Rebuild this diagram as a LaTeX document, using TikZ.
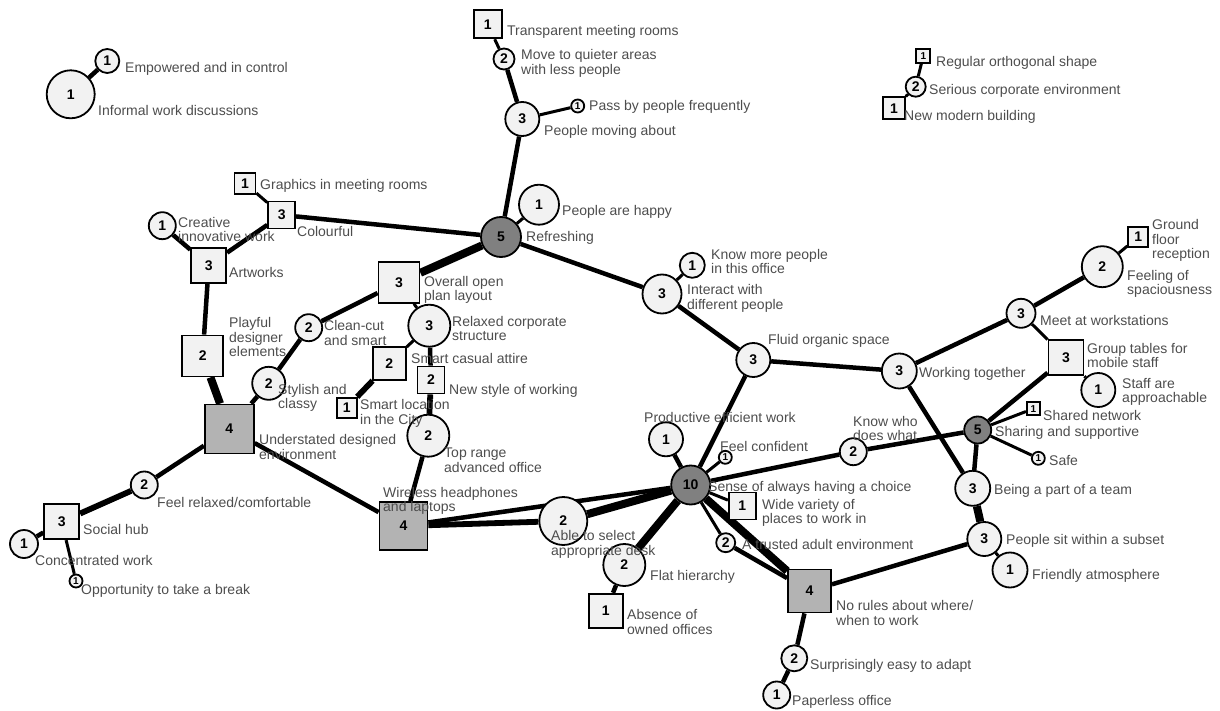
\documentclass[tikz,border=0pt]{standalone}
\usepackage{fontspec}
\setmainfont{Liberation Sans}
\usetikzlibrary{backgrounds}
\definecolor{nodefill}{HTML}{F2F2F2}
\definecolor{darkfill}{HTML}{B3B3B3}
\definecolor{hubfill}{HTML}{808080}
\definecolor{labelgray}{HTML}{4D4D4D}
\tikzset{
  cnode/.style={circle, draw, line width=1.8pt, fill=nodefill, inner sep=0pt,
    minimum size=#1, font=\fontsize{14}{14}\selectfont\bfseries},
  cnode/.default=30,
  snode/.style={rectangle, draw, line width=1.8pt, fill=nodefill, inner sep=0pt,
    minimum size=#1, font=\fontsize{14}{14}\selectfont\bfseries},
  snode/.default=30,
  darksq/.style={fill=darkfill},
  hubc/.style={fill=hubfill},
  tinynum/.style={font=\fontsize{10}{10}\selectfont\bfseries},
  lbl/.style={anchor=west, inner sep=0pt, align=left, text=labelgray,
    font=\fontsize{14}{14.5}\selectfont},
  lw1/.style={line width=3pt},
  lw2/.style={line width=4.5pt},
  lw3/.style={line width=5.8pt},
  lw4/.style={line width=8pt}
}
\begin{document}
\begin{tikzpicture}[x=1pt, y=-1pt]
        \useasboundingbox (0, 0) rectangle (1220, 711);

        %%informal
        \node[cnode=48] (inform) at(70.7, 94.3){1};
        \node[cnode=24] (empow) at(107.3, 61){1};
        \node[lbl] (inform-l) at(98, 110){Informal work discussions};
        \node[lbl] (empow-l) at(125, 69){Empowered and in control};

        %%refreshing
        \node[cnode=40, hubc] (refresh) at(501, 237){5};
        \node[cnode=40] (happy) at(539, 204.7){1};
        \node[cnode=34] (moving) at(522.3, 119){3};
        \node[cnode=13, tinynum] (passby) at(577.7, 106){1};
        \node[cnode=21] (quieter) at(504, 59){2};
        \node[snode=28] (transp) at(487.7, 24.3){1};
        \node[lbl] (refresh-l) at(526, 238.3){Refreshing};
        \node[lbl] (happy-l) at(562, 211.7){People are happy};
        \node[lbl] (moving-l) at(544, 132){People moving about};
        \node[lbl] (passby-l) at(589, 106.5){Pass by people frequently};
        \node[lbl] (quieter-l) at(521, 63.5){Move to quieter areas\\with less people};
        \node[lbl] (transp-l) at(507, 32.3){Transparent meeting rooms};

        %%colourful
        \node[snode=27] (colour) at(281.7, 215){3};
        \node[snode=21] (graph) at(245, 183.3){1};
        \node[cnode=27] (creat) at(162.3, 225.7){1};
        \node[snode=35] (artw) at(208.7, 265.3){3};
        \node[snode=41] (playf) at(202.7, 356){2};
        \node[lbl] (colour-l) at(297, 231){Colourful};
        \node[lbl] (graph-l) at(260, 186){Graphics in meeting rooms};
        \node[lbl] (creat-l) at(178, 229.5){Creative\\innovative work};
        \node[lbl] (artw-l) at(229, 272){Artworks};
        \node[lbl] (playf-l) at(229, 337){Playful\\designer\\elements};

        %%understated
        \node[snode=49, darksq] (under) at(229.3, 429){4};
        \node[cnode=33] (stylish) at(268.7, 383.3){2};
        \node[cnode=27] (clean) at(308.7, 327.7){2};
        \node[snode=41] (overall) at(399, 282.3){3};
        \node[cnode=42] (relax) at(429.3, 325.7){3};
        \node[snode=33] (casual) at(389.3, 363.3){2};
        \node[snode=20] (locat) at(346.7, 407.7){1};
        \node[snode=27] (newstyle) at(431, 380){2};
        \node[cnode=42] (toprange) at(428.3, 435.7){2};
        \node[snode=48, darksq] (wireless) at(403.5, 526){4};
        \node[lbl] (under-l) at(259, 447){Understated designed\\environment};
        \node[lbl] (stylish-l) at(278, 398){Stylish and\\classy};
        \node[lbl] (clean-l) at(324, 333){Clean-cut\\and smart};
        \node[lbl] (overall-l) at(424, 290){Overall open\\plan layout};
        \node[lbl] (relax-l) at(452, 328.5){Relaxed corporate\\structure};
        \node[lbl] (casual-l) at(411, 358.5){Smart casual attire};
        \node[lbl] (locat-l) at(360, 413.5){Smart location\\in the City};
        \node[lbl] (newstyle-l) at(449, 390.5){New style of working};
        \node[lbl] (toprange-l) at(444, 460.5){Top range\\advanced office};
        \node[lbl] (wireless-l) at(383, 501){Wireless headphones\\and laptops};

        %%social hub
        \node[cnode=27] (relaxed) at(144.3, 485){2};
        \node[snode=35] (social) at(61.7, 521.7){3};
        \node[cnode=28] (concen) at(24, 544){1};
        \node[cnode=13, tinynum] (breakk) at(76, 581){1};
        \node[lbl] (relaxed-l) at(157, 502.7){Feel relaxed/comfortable};
        \node[lbl] (social-l) at(83, 529){Social hub};
        \node[lbl] (concen-l) at(35, 560.7){Concentrated work};
        \node[lbl] (breakk-l) at(81, 590.7){Opportunity to take a break};

        %%choice
        \node[cnode=39, hubc] (choice) at(690.7, 485){10};
        \node[cnode=34] (product) at(666, 439.3){1};
        \node[cnode=13, tinynum] (confident) at(725.3, 457.3){1};
        \node[snode=27] (variety) at(742.3, 506){1};
        \node[cnode=19] (trusted) at(725.7, 542.7){2};
        \node[cnode=48] (select) at(563.3, 521){2};
        \node[cnode=42] (flat) at(624.3, 565){2};
        \node[snode=34] (absence) at(605.7, 610.7){1};
        \node[snode=43, darksq] (norules) at(809.5, 591){4};
        \node[cnode=26] (adapt) at(794.3, 658.3){2};
        \node[cnode=27] (paper) at(776.7, 695){1};
        \node[lbl] (choice-l) at(708, 488.3){Sense of always having a choice};
        \node[lbl] (product-l) at(644, 417.3){Productive efficient work};
        \node[lbl] (confident-l) at(720, 446.7){Feel confident};
        \node[lbl] (variety-l) at(762, 513){Wide variety of\\places to work in};
        \node[lbl] (trusted-l) at(742, 544){A trusted adult environment};
        \node[lbl] (select-l) at(551, 544.2){Able to select\\appropriate desk};
        \node[lbl] (flat-l) at(650, 577.3){Flat hierarchy};
        \node[lbl] (absence-l) at(627, 622.2){Absence of\\owned offices};
        \node[lbl] (norules-l) at(836, 613){No rules about where/\\when to work};
        \node[lbl] (adapt-l) at(810, 665.7){Surprisingly easy to adapt};
        \node[lbl] (paper-l) at(792, 702){Paperless office};

        %%interact
        \node[cnode=39] (interact) at(662, 294){3};
        \node[cnode=25] (knowmore) at(692.3, 265.3){1};
        \node[cnode=34] (fluid) at(753.3, 360){3};
        \node[lbl] (interact-l) at(687, 298.5){Interact with\\different people};
        \node[lbl] (knowmore-l) at(711, 261.3){Know more people\\in this office};
        \node[lbl] (fluid-l) at(768, 340.7){Fluid organic space};

        %%working together
        \node[cnode=35] (together) at(899.3, 371){3};
        \node[cnode=29] (meet) at(1021, 313.3){3};
        \node[cnode=41] (spacious) at(1102.3, 266.7){2};
        \node[snode=20] (ground) at(1138.3, 237){1};
        \node[snode=35] (group) at(1066, 357.7){3};
        \node[cnode=34] (approach) at(1098.3, 390){1};
        \node[lbl] (together-l) at(919, 374.3){Working together};
        \node[lbl] (meet-l) at(1040, 320){Meet at workstations};
        \node[lbl] (spacious-l) at(1127, 284){Feeling of\\spaciousness};
        \node[lbl] (ground-l) at(1152, 240.5){Ground\\floor\\reception};
        \node[lbl] (group-l) at(1087, 355.3){Group tables for\\mobile staff};
        \node[lbl] (approach-l) at(1122, 392){Staff are\\approachable};

        %%sharing
        \node[cnode=27, hubc] (sharing) at(977.7, 430){5};
        \node[snode=13, tinynum] (network) at(1033.3, 408.7){1};
        \node[cnode=13, tinynum] (safe) at(1038.3, 458.3){1};
        \node[cnode=27] (knowwho) at(853.3, 451.7){2};
        \node[cnode=35] (team) at(972.7, 488.3){3};
        \node[cnode=34] (subset) at(984.3, 539){3};
        \node[cnode=35] (friendly) at(1010, 570){1};
        \node[lbl] (sharing-l) at(995, 432.7){Sharing and supportive};
        \node[lbl] (network-l) at(1043, 415.3){Shared network};
        \node[lbl] (safe-l) at(1049, 460.7){Safe};
        \node[lbl] (knowwho-l) at(853, 428.3){Know who\\does what};
        \node[lbl] (team-l) at(994, 491){Being a part of a team};
        \node[lbl] (subset-l) at(1006, 541){People sit within a subset};
        \node[lbl] (friendly-l) at(1032, 576){Friendly atmosphere};

        %%corporate
        \node[snode=14, tinynum] (regular) at(923.3, 55.7){1};
        \node[cnode=20] (serious) at(915.7, 86.7){2};
        \node[snode=22] (modern) at(894, 108.3){1};
        \node[lbl] (regular-l) at(936, 63){Regular orthogonal shape};
        \node[lbl] (serious-l) at(929, 90.7){Serious corporate environment};
        \node[lbl] (modern-l) at(904, 116.7){New modern building};

        \begin{scope}[on background layer]
            \draw[lw2](inform) to (empow);
            \draw[lw1](regular) to (serious);
            \draw[lw1](serious) to (modern);

            \draw[lw1](graph) to (colour);
            \draw[lw2](colour) to (refresh);
            \draw[lw2](colour) to (artw);
            \draw[lw2](creat) to (artw);
            \draw[lw2](artw) to (playf);
            \draw[lw4](playf) to (under);

            \draw[lw2](under) to (stylish);
            \draw[lw2](stylish) to (clean);
            \draw[lw2](clean) to (overall);
            \draw[lw4](overall) to (refresh);
            \draw[lw1](overall) to (relax);
            \draw[lw1](relax) to (casual);
            \draw[lw3](casual) to (locat);
            \draw[lw2](relax) to (newstyle);
            \draw[lw3](newstyle) to (toprange);
            \draw[lw2](toprange) to (wireless);
            \draw[lw2](under) to (wireless);

            \draw[lw2](under) to (relaxed);
            \draw[lw3](relaxed) to (social);
            \draw[lw2](social) to (concen);
            \draw[lw1](social) to (breakk);

            \draw[lw2](wireless) to (choice);
            \draw[lw3](wireless) to (select);
            \draw[lw4](select) to (choice);

            \draw[lw2](refresh) to (interact);
            \draw[lw2](refresh) to (moving);
            \draw[lw1](refresh) to (happy);
            \draw[lw2](moving) to (quieter);
            \draw[lw1](quieter) to (transp);
            \draw[lw1](moving) to (passby);

            \draw[lw1](interact) to (knowmore);
            \draw[lw2](interact) to (fluid);
            \draw[lw2](fluid) to (together);
            \draw[lw2](fluid) to (choice);

            \draw[lw2](together) to (meet);
            \draw[lw2](meet) to (spacious);
            \draw[lw1](spacious) to (ground);
            \draw[lw1](meet) to (group);
            \draw[lw1](group) to (approach);
            \draw[lw2](group) to (sharing);

            \draw[lw1](sharing) to (network);
            \draw[lw1](sharing) to (safe);
            \draw[lw2](sharing) to (knowwho);
            \draw[lw2](knowwho) to (choice);
            \draw[lw2](sharing) to (team);
            \draw[lw2](together) to (team);
            \draw[lw4](team) to (subset);
            \draw[lw1](subset) to (friendly);
            \draw[lw2](subset) to (norules);

            \draw[lw2](norules) to (adapt);
            \draw[lw2](adapt) to (paper);
            \draw[lw4](choice) to (norules);
            \draw[lw1](choice) to (trusted);
            \draw[lw2](trusted) to (norules);
            \draw[lw1](choice) to (variety);
            \draw[lw1](choice) to (confident);
            \draw[lw2](choice) to (product);
            \draw[lw4](choice) to (flat);
            \draw[lw2](flat) to (absence);
        \end{scope}
\end{tikzpicture}
\end{document}
